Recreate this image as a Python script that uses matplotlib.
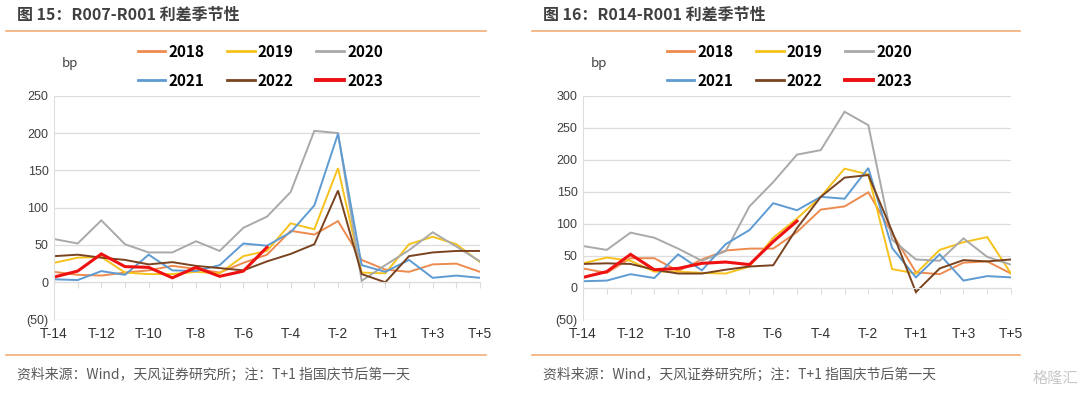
import matplotlib
matplotlib.use("Agg")
import matplotlib.pyplot as plt
from matplotlib.lines import Line2D

plt.rcParams['font.family'] = ['Noto Sans CJK SC', 'DejaVu Sans']

# 横轴：国庆前后交易日
days = ['T-14', 'T-13', 'T-12', 'T-11', 'T-10', 'T-9', 'T-8', 'T-7', 'T-6', 'T-5',
        'T-4', 'T-3', 'T-2', 'T-1', 'T+1', 'T+2', 'T+3', 'T+4', 'T+5']
years = ['2018', '2019', '2020', '2021', '2022', '2023']

# 图15：R007-R001 (bp)
r007_2018 = [14, 10, 9, 13, 16, 22, 18, 13, 26, 37, 69, 64, 82, 30, 17, 14, 24, 25, 14]
r007_2019 = [26, 33, 34, 13, 11, 11, 14, 12, 35, 42, 79, 71, 153, 13, 12, 51, 61, 51, 27]
r007_2020 = [58, 52, 83, 51, 40, 40, 55, 42, 73, 88, 121, 203, 200, 2, 23, 43, 67, 48, 28]
r007_2021 = [4, 3, 15, 10, 37, 16, 15, 23, 52, 49, 67, 103, 199, 23, 14, 30, 6, 9, 6]
r007_2022 = [35, 37, 33, 30, 24, 27, 22, 19, 16, 28, 38, 51, 123, 11, 0, 35, 40, 42, 42]
r007_2023 = [7, 15, 38, 21, 20, 6, 20, 8, 15, 47]

# 图16：R014-R001 (bp)
r014_2018 = [30, 23, 46, 46, 26, 44, 58, 61, 61, 87, 122, 127, 149, 85, 24, 21, 39, 41, 22]
r014_2019 = [38, 47, 42, 25, 25, 23, 22, 33, 78, 108, 142, 186, 177, 29, 22, 59, 71, 79, 22]
r014_2020 = [65, 59, 86, 78, 61, 42, 57, 127, 165, 208, 215, 275, 254, 75, 44, 42, 77, 48, 36]
r014_2021 = [10, 11, 21, 15, 52, 27, 68, 90, 132, 121, 142, 139, 187, 62, 16, 52, 11, 18, 16]
r014_2022 = [37, 38, 37, 28, 22, 22, 28, 33, 35, 93, 142, 172, 176, 88, -7, 30, 43, 41, 44]
r014_2023 = [16, 25, 52, 28, 30, 38, 40, 36, 72, 104]

colors = ['#ED8B4F', '#F6C21C', '#A9A9A9', '#5E9BD3', '#7A4320', '#EE1111']
widths = [1.4, 1.4, 1.4, 1.4, 1.4, 2.2]

left_ticks = [-50, 0, 50, 100, 150, 200, 250]
right_ticks = [-50, 0, 50, 100, 150, 200, 250, 300]

grid_c = '#DDDDDD'
orange_rule = '#F2AE78'


def fmt(v):
    return f'({abs(v)})' if v < 0 else str(v)


def draw_panel(ax, series, yticks, pad):
    for s, c, w in zip(series, colors, widths):
        ax.plot(range(len(s)), s, color=c, linewidth=w, solid_joinstyle='miter')
    ax.set_xlim(0, len(days) - 1)
    ax.set_ylim(yticks[0], yticks[-1])
    ax.set_yticks(yticks)
    ax.set_yticklabels([fmt(v) for v in yticks])
    ax.yaxis.grid(True, color=grid_c, linewidth=0.9)
    ax.set_axisbelow(True)
    ax.set_xticks(range(len(days)))
    ax.set_xticklabels([d if i % 2 == 0 else '' for i, d in enumerate(days)])
    for sp in ['top', 'right']:
        ax.spines[sp].set_visible(False)
    ax.spines['left'].set_color(grid_c)
    ax.spines['bottom'].set_color(grid_c)
    ax.spines['bottom'].set_position(('data', 0))
    ax.tick_params(axis='y', length=0, labelsize=9, colors='#404040', pad=4)
    ax.tick_params(axis='x', length=4, direction='out', color=grid_c,
                   labelsize=10, labelcolor='#333333', pad=pad)
    for lab in ax.get_xticklabels() + ax.get_yticklabels():
        lab.set_family(['Liberation Sans', 'DejaVu Sans'])


fig = plt.figure(figsize=(10.8, 3.99), dpi=100)

ax1 = fig.add_axes([54 / 1080, 0.199, 426 / 1080, 0.561])
ax2 = fig.add_axes([583 / 1080, 0.199, 428 / 1080, 0.561])

draw_panel(ax1, [r007_2018, r007_2019, r007_2020, r007_2021, r007_2022, r007_2023],
           left_ticks, 28)
draw_panel(ax2, [r014_2018, r014_2019, r014_2020, r014_2021, r014_2022, r014_2023],
           right_ticks, 24)

# 标题、分隔线、注释
titles = ['图 15：R007-R001 利差季节性', '图 16：R014-R001 利差季节性']
note = '资料来源：Wind，天风证券研究所；注：T+1 指国庆节后第一天'
for x0, x1, t in [(6, 486, titles[0]), (532, 1020, titles[1])]:
    fig.text((x0 + 11) / 1080, 1 - 15 / 399, t, fontsize=11.5, fontweight='bold',
             color='#404040', va='center', ha='left')
    fig.add_artist(Line2D([x0 / 1080, x1 / 1080], [1 - 31 / 399] * 2,
                          color=orange_rule, linewidth=1.2))
    fig.add_artist(Line2D([x0 / 1080, x1 / 1080], [1 - 355 / 399] * 2,
                          color=orange_rule, linewidth=1.2))
    fig.text((x0 + 11) / 1080, 1 - 375 / 399, note, fontsize=10,
             color='#595959', va='center', ha='left')

for x_bp in [62, 591]:
    fig.text(x_bp / 1080, 1 - 63 / 399, 'bp', fontsize=9.5,
             color='#404040', va='center', ha='left')

# 图例（两行三列，按行排列）
order = [0, 3, 1, 4, 2, 5]
for x_leg in [130, 659]:
    handles = [Line2D([], [], color=colors[i], linewidth=widths[i] + 0.6) for i in order]
    labels = [years[i] for i in order]
    fig.legend(handles, labels, ncol=3, loc='upper left',
               bbox_to_anchor=(x_leg / 1080, 1 - 36 / 399),
               frameon=False, borderpad=0, handlelength=1.8, handletextpad=0.2,
               columnspacing=1.5, labelspacing=0.85,
               prop={'weight': 'bold', 'size': 11})

fig.text(1055 / 1080, 1 - 378 / 399, '格隆汇', fontsize=11, color='#C8C8C8',
         va='center', ha='center')

fig.savefig('out.png', dpi=100)
